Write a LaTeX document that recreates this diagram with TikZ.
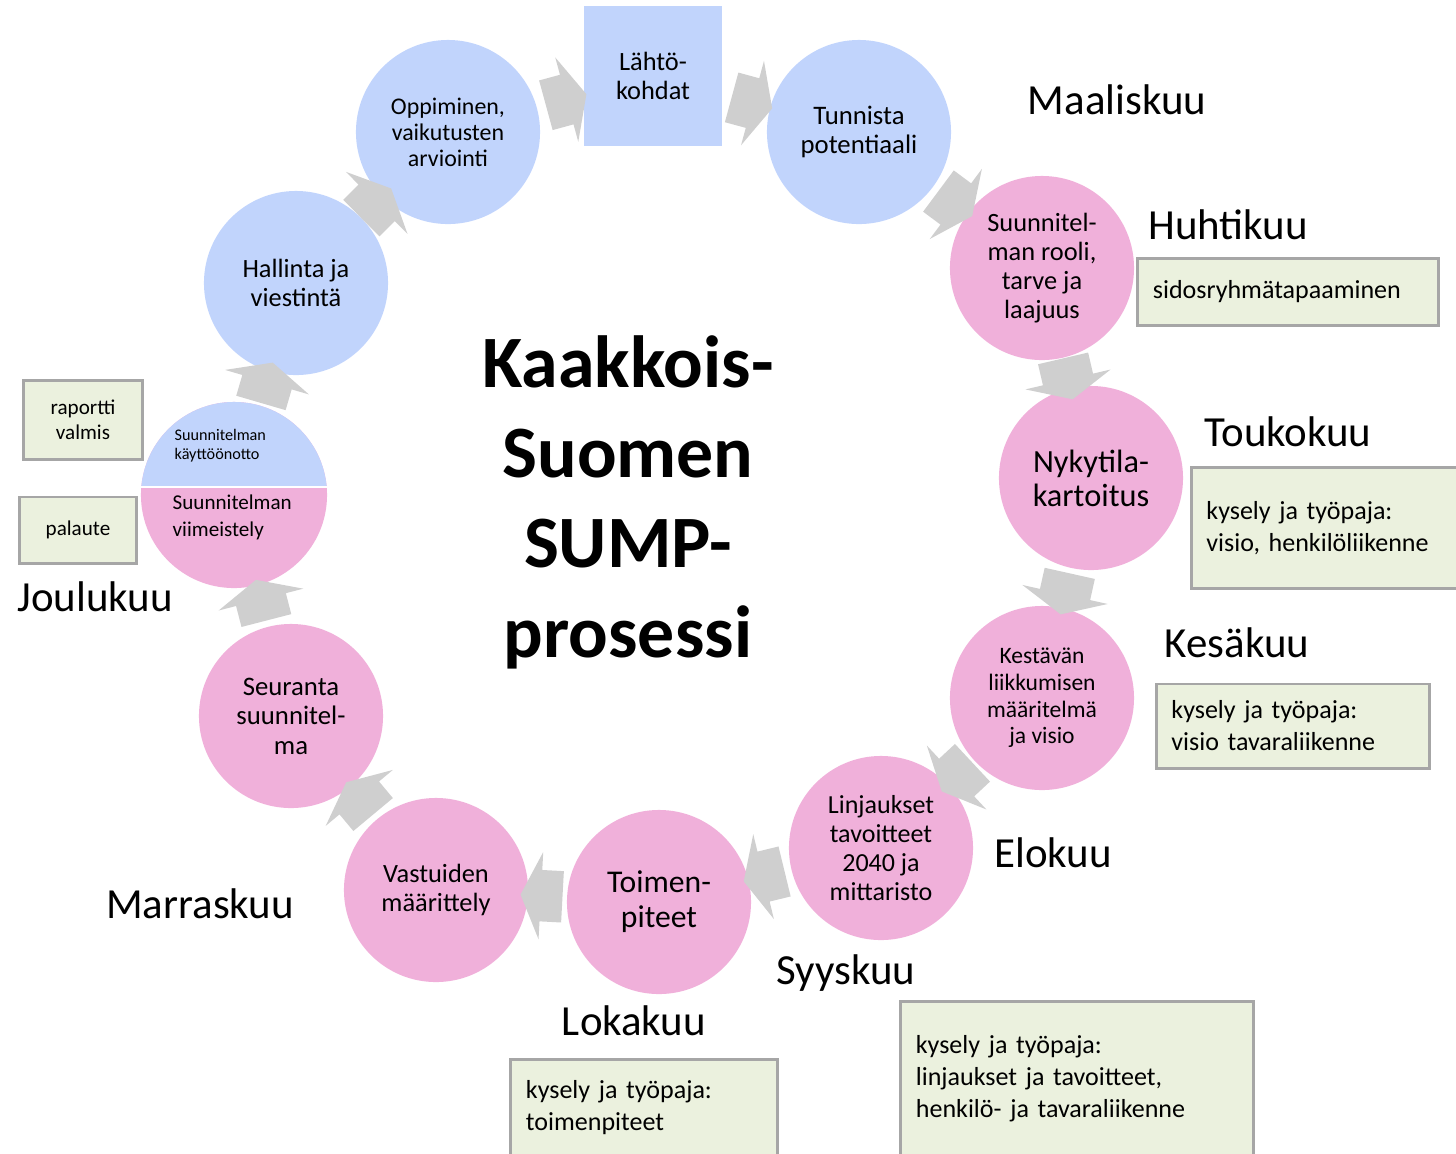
\documentclass[tikz,border=0pt]{standalone}
\usepackage{fontspec}
\setmainfont{Carlito}
\usepackage{tikz}
\usetikzlibrary{shapes.arrows, positioning, calc}
\definecolor{sumpblue}  {RGB}{193, 212, 252}
\definecolor{sumppink}  {RGB}{240, 176, 218}
\definecolor{sumpgrey}  {RGB}{207, 207, 207}
\definecolor{notegreen} {RGB}{235, 241, 222}
\definecolor{noteframe} {RGB}{166, 166, 166}
\newcommand{\fsz}[2]{\fontsize{#1}{#2}\selectfont}

\begin{document}
\begin{tikzpicture}[x=0.01cm, y=-0.01cm,
	phase/.style={circle, minimum size=1.84cm, inner sep=0pt, align=center},
	bluephase/.style={phase, fill=sumpblue},
	pinkphase/.style={phase, fill=sumppink},
	note/.style={draw=noteframe, fill=notegreen, line width=0.85pt, inner xsep=0.15cm, inner ysep=0pt, align=left, font=\fsz{7.4}{9.1}},
	month/.style={font=\fsz{12.2}{14}},
	turn/.style={single arrow, fill=sumpgrey, draw=none, inner xsep=0pt, inner ysep=0.25cm, minimum width=0.86cm, minimum height=0.42cm,
		single arrow head extend=0.18cm, single arrow tip angle=130, sloped, allow upside down}]
	\useasboundingbox (0,0) rectangle (1456,1153);

	% the cycle
	\node[bluephase, font=\fsz{6.8}{7.4}] (learn) at (448,132) {Oppiminen,\\vaikutusten\\arviointi};
	\node[rectangle, fill=sumpblue, minimum width=1.38cm, minimum height=1.39cm, align=center, font=\fsz{7.5}{8.25}] (start) at (653,76) {Lähtö-\\kohdat};
	\node[bluephase, font=\fsz{7.6}{8.25}] (potential) at (859,132) {Tunnista\\potentiaali};
	\node[pinkphase, font=\fsz{7.5}{8.3}] (role) at (1042,268) {Suunnitel-\\man rooli,\\tarve ja\\laajuus};
	\node[pinkphase, font=\fsz{9.2}{9.7}] (status) at (1091,478) {Nykytila-\\kartoitus};
	\node[pinkphase, font=\fsz{6.7}{7.6}] (vision) at (1042,698) {Kestävän\\liikkumisen\\määritelmä\\ja visio};
	\node[pinkphase, font=\fsz{7.4}{8.3}] (goals) at (881,848) {Linjaukset\\tavoitteet\\2040 ja\\mittaristo};
	\node[pinkphase, font=\fsz{9}{10}] (measures) at (659,902) {Toimen-\\piteet};
	\node[pinkphase, font=\fsz{7.5}{8.5}] (duties) at (436,890) {Vastuiden\\määrittely};
	\node[pinkphase, font=\fsz{7.6}{8.4}] (monitor) at (291,716) {Seuranta\\suunnitel-\\ma};
	\node[phase, minimum size=1.86cm] (finish) at (234,495) {};
	\node[bluephase, font=\fsz{7.5}{8.25}] (manage) at (296,283) {Hallinta ja\\viestintä};

	% split circle
	\fill[sumppink] (finish.center) circle[radius=0.93cm];
	\begin{scope}
		\clip (130,390) rectangle (340,487);
		\fill[sumpblue] (finish.center) circle[radius=0.93cm];
	\end{scope}
	\draw[white, line width=0.6pt] (finish.west |- 0,487) -- (finish.east |- 0,487);
	\node[anchor=west, align=left, inner sep=0pt, font=\fsz{4.6}{5.4}] (inuse) at (174,446) {Suunnitelman\\käyttöönotto};
	\node[anchor=west, align=left, inner sep=0pt, font=\fsz{6}{7.7}] (polish) at (172,517) {Suunnitelman\\viimeistely};

	% arrows
	\path (learn) -- node[turn] {} (start);
	\path (start) -- node[turn] {} (potential);
	\path (potential) -- node[turn] {} (role);
	\path (role) -- node[turn] {} (status);
	\path (status) -- node[turn] {} (vision);
	\path (vision) -- node[turn] {} (goals);
	\path (goals) -- node[turn] {} (measures);
	\path (measures) -- node[turn] {} (duties);
	\path (duties) -- node[turn] {} (monitor);
	\path (monitor) -- node[turn] {} (finish);
	\path (finish) -- node[turn] {} (manage);
	\path (manage) -- node[turn] {} (learn);

	% title
	\node[font=\bfseries\fsz{21}{25.6}, align=center] (title) at (628,502) {Kaakkois-\\Suomen\\SUMP-\\prosessi};

	% months
	\node[month] (mar) at (1117,100) {Maaliskuu};
	\node[month] (apr) at (1228,225) {Huhtikuu};
	\node[month] (may) at (1288,432) {Toukokuu};
	\node[month] (jun) at (1237,643) {Kesäkuu};
	\node[month] (aug) at (1053,853) {Elokuu};
	\node[month] (sep) at (846,973) {Syyskuu};
	\node[month] (oct) at (634,1021) {Lokakuu};
	\node[month] (nov) at (200,904) {Marraskuu};
	\node[month] (dec) at (95,597) {Joulukuu};

	% events
	\node[note, text width=2.70cm, minimum height=0.67cm] (meet) at (1288,292) {sidosryhmätapaaminen};
	\node[note, text width=2.39cm, minimum height=1.21cm] (ws1) at (1326,528) {kysely ja työpaja:\\visio, henkilöliikenne};
	\node[note, text width=2.43cm, minimum height=0.84cm] (ws2) at (1293,726) {kysely ja työpaja:\\visio tavaraliikenne};
	\node[note, text width=2.36cm, minimum height=0.96cm] (ws4) at (644,1108) {kysely ja työpaja:\\toimenpiteet};
	\node[note, text width=3.22cm, minimum height=1.54cm] (ws3) at (1077,1079) {kysely ja työpaja:\\linjaukset ja tavoitteet,\\henkilö- ja tavaraliikenne};
	\node[note, align=center, font=\fsz{6}{7.1}, text width=0.88cm, minimum height=0.79cm] (report) at (83,420) {raportti\\valmis};
	\node[note, align=center, font=\fsz{6}{7.1}, text width=0.86cm, minimum height=0.66cm] (feedback) at (78,530) {palaute};
\end{tikzpicture}
\end{document}
